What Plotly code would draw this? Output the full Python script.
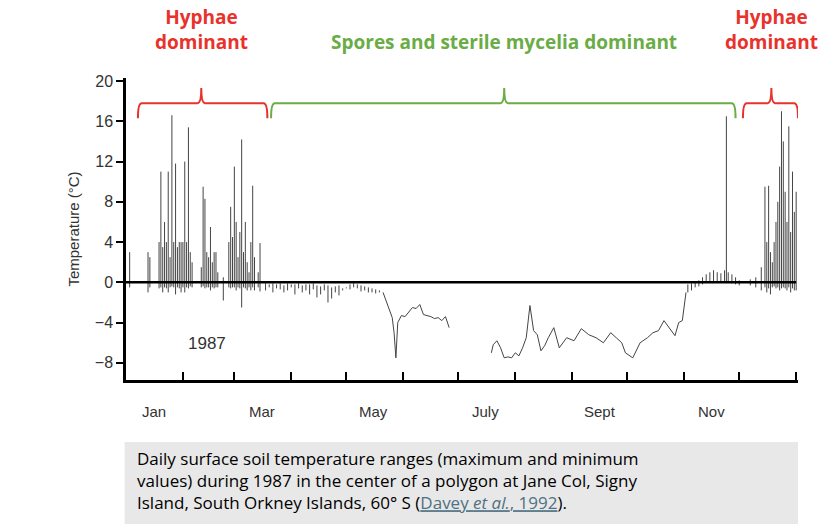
import plotly.graph_objects as go

# ---- data (day of year 1987, °C) ----
sum_days = [2, 12, 13, 18, 19, 20, 21, 22, 23, 24, 25, 26, 27, 28, 29, 30, 31, 32, 33, 34, 35, 36,
            41, 42, 43, 44, 45, 46, 47, 48, 49, 50, 53, 56, 57, 58, 59, 60, 61, 62, 63, 64, 65, 66, 67, 68, 69, 70, 72, 73]
sum_max = [3.0, 3.0, 2.5, 4.0, 11.0, 3.5, 6.0, 4.0, 11.0, 2.5, 16.6, 4.0, 11.8, 3.5, 4.0, 4.0, 4.0, 12.0, 4.0, 15.4, 3.0, 2.0,
           1.5, 9.5, 8.3, 3.0, 2.5, 5.5, 2.0, 3.0, 3.0, 1.0, 0.5, 4.0, 7.5, 4.5, 11.5, 6.0, 2.5, 5.0, 14.2, 3.0, 6.0, 2.0, 1.0, 4.0, 9.6, 2.5, 1.0, 3.9]
sum_min = [-0.5, -1.0, -0.5, -0.6, -0.5, -1.0, -0.5, -0.6, -1.0, -0.5, -0.4, -0.5, -1.2, -0.5, -0.6, -1.0, -0.5, -1.0, -0.5, -0.6, -0.4, -0.5,
           -0.5, -0.4, -0.6, -0.5, -0.5, -0.8, -0.5, -0.6, -0.5, -0.5, -1.8, -0.5, -0.6, -0.5, -0.5, -0.8, -0.5, -0.6, -2.5, -0.5, -0.6, -0.8, -0.5, -0.8, -0.5, -0.8, -0.5, -0.9]

aut_days = [76, 78, 80, 82, 84, 86, 88, 90, 92, 94, 96, 98, 100, 102, 104, 106, 108, 110, 112, 114, 116, 118, 120, 122, 124, 126, 128, 130, 132, 134, 136, 138]
aut_max = [-0.1, -0.2, -0.1, -0.2, -0.1, -0.3, -0.1, -0.2, -0.2, -0.1, -0.3, -0.2, -0.2, -0.1, -0.3, -0.4, -0.2, -0.3, -0.5, -0.4, -0.3, -0.6, -0.5, -0.2, -0.1, -0.2, -0.3, -0.4, -0.5, -0.6, -0.7, -0.8]
aut_min = [-0.8, -0.5, -1.0, -0.6, -0.7, -1.0, -0.8, -0.5, -1.2, -0.6, -1.0, -0.8, -1.2, -0.7, -1.5, -1.2, -0.8, -2.0, -1.6, -1.0, -1.3, -0.8, -0.6, -0.7, -0.5, -0.6, -0.9, -0.8, -1.0, -1.0, -1.1, -1.0]

win1_days = [140, 142, 144, 145, 146, 147, 148, 150, 152, 154, 156, 158, 160, 162, 164, 166, 168, 170, 172, 174, 176]
win1_temp = [-1.0, -2.0, -3.0, -3.5, -5.0, -7.5, -4.0, -3.3, -3.4, -3.0, -2.5, -2.6, -2.2, -3.2, -3.3, -3.4, -3.6, -3.5, -3.8, -3.4, -4.5]

win2_days = [199, 200, 202, 204, 206, 208, 210, 212, 214, 216, 218, 220, 222, 224, 226, 228, 230, 233, 236, 240, 244, 248, 252, 256, 260,
             264, 267, 270, 272, 276, 280, 284, 287, 290, 293, 296, 299, 301, 303, 305]
win2_temp = [-7.0, -6.2, -5.8, -6.5, -7.5, -7.4, -7.5, -7.0, -7.3, -6.5, -5.5, -2.3, -4.8, -5.2, -6.8, -6.3, -5.5, -4.5, -6.5, -5.5, -5.8, -4.6, -5.2, -5.5, -6.0,
             -5.0, -5.5, -6.0, -7.0, -7.5, -6.0, -5.5, -5.0, -4.8, -3.8, -4.5, -5.3, -4.0, -3.8, -1.0]

spr_days = [306, 308, 310, 312, 314, 316, 318, 320, 322, 324, 326, 327, 328, 330, 332, 334]
spr_max = [-0.2, -0.1, 0.0, 0.2, 0.5, 0.8, 1.0, 1.2, 1.0, 0.9, 1.2, 16.5, 1.0, 0.8, 0.5, 0.2]
spr_min = [-1.0, -0.8, -0.5, -0.4, -0.2, 0.0, 0.0, 0.1, 0.0, 0.0, 0.1, 0.0, 0.0, -0.1, -0.2, -0.3]

dec_days = [340, 343, 346, 348, 349, 350, 351, 352, 353, 354, 355, 356, 357, 358, 359, 360, 361, 362, 363, 364, 365]
dec_max = [0.3, 0.5, 1.5, 9.5, 4.0, 9.6, 3.0, 2.0, 4.0, 6.0, 8.0, 11.5, 17.0, 14.0, 9.0, 6.0, 15.5, 5.0, 11.0, 7.0, 9.0]
dec_min = [-0.3, -0.5, -0.8, -0.5, -1.0, -0.6, -1.2, -0.5, -0.4, -0.6, -0.5, -0.8, -0.6, -0.5, -0.6, -0.8, -0.5, -1.0, -0.6, -0.8, -0.8]

month_bounds = [0, 31, 59, 90, 120, 151, 181, 212, 243, 273, 304, 334, 365]
month_labels = ["Jan", "Mar", "May", "July", "Sept", "Nov"]
month_label_pos = [15, 74, 135, 196, 258, 319]
y_ticks = [-8, -4, 0, 4, 8, 12, 16, 20]


def ranges(days, lo, hi):
    xs, ys = [], []
    for d, a, b in zip(days, lo, hi):
        xs += [d, d, None]
        ys += [a, b, None]
    return xs, ys


fig = go.Figure()
line_col = "#444444"
for d, lo, hi in [(sum_days, sum_min, sum_max), (aut_days, aut_min, aut_max),
                  (spr_days, spr_min, spr_max), (dec_days, dec_min, dec_max)]:
    xs, ys = ranges(d, lo, hi)
    fig.add_trace(go.Scatter(x=xs, y=ys, mode="lines", line=dict(color=line_col, width=1), hoverinfo="skip"))
for d, t in [(win1_days, win1_temp), (win2_days, win2_temp)]:
    fig.add_trace(go.Scatter(x=d, y=t, mode="lines", line=dict(color=line_col, width=1), hoverinfo="skip"))

# zero line
fig.add_shape(type="line", x0=0, x1=365, y0=0, y1=0, xref="x", yref="y", line=dict(color="black", width=2.5))


def brace(x0, x1, xm, ylo, ymid, ytop, color):
    w = 2.0
    p = (f"M {x0},{ylo} Q {x0},{ymid} {x0 + w},{ymid} L {xm - w},{ymid} "
         f"Q {xm},{ymid} {xm},{ytop} Q {xm},{ymid} {xm + w},{ymid} "
         f"L {x1 - w},{ymid} Q {x1},{ymid} {x1},{ylo}")
    fig.add_shape(type="path", path=p, xref="x", yref="y", line=dict(color=color, width=2))


red = "#e8322b"
green = "#6aac45"
brace(6.5, 77, 41, 16.3, 17.8, 19.3, red)
brace(79, 332, 206, 16.3, 17.8, 19.3, green)
brace(336, 366, 351.5, 16.3, 17.8, 19.3, red)

fig.add_annotation(x=41, y=1.07, xref="x", yref="paper", text="<b>Hyphae<br>dominant</b>", showarrow=False,
                   font=dict(color=red, size=19, family="Open Sans"), yanchor="bottom")
fig.add_annotation(x=351.5, y=1.07, xref="x", yref="paper", text="<b>Hyphae<br>dominant</b>", showarrow=False,
                   font=dict(color=red, size=19, family="Open Sans"), yanchor="bottom")
fig.add_annotation(x=206, y=1.07, xref="x", yref="paper", text="<b>Spores and sterile mycelia dominant</b>",
                   showarrow=False, font=dict(color=green, size=19, family="Open Sans"), yanchor="bottom")

fig.add_annotation(x=44, y=-6.1, xref="x", yref="y", text="1987", showarrow=False,
                   font=dict(color="#333333", size=17, family="Liberation Sans"))

for lab, pos in zip(month_labels, month_label_pos):
    fig.add_annotation(x=pos, y=-0.07, xref="x", yref="paper", text=lab, showarrow=False, yanchor="top",
                       font=dict(color="#333333", size=15, family="Liberation Sans"))

# caption box
fig.add_shape(type="rect", xref="paper", yref="paper", x0=-0.002, x1=1.0, y0=-0.52, y1=-0.205,
              fillcolor="#e8e8e8", line=dict(width=0), layer="below")
fig.add_annotation(x=0.013, y=-0.215, xref="paper", yref="paper", align="left", xanchor="left", yanchor="top",
                   showarrow=False, font=dict(color="black", size=17, family="Open Sans"),
                   text=("Daily surface soil temperature ranges (maximum and minimum<br>"
                         "values) during 1987 in the center of a polygon at Jane Col, Signy<br>"
                         "Island, South Orkney Islands, 60° S (<span style='color:#4f7182'><u>Davey <i>et al.</i>, 1992</u></span>)."))

fig.update_layout(
    width=840, height=524, showlegend=False,
    margin=dict(l=118, r=50, t=70, b=152),
    paper_bgcolor="white", plot_bgcolor="white",
    xaxis=dict(range=[0, 366], tickvals=month_bounds, ticktext=[""] * len(month_bounds),
               ticks="inside", ticklen=8, tickwidth=2, tickcolor="black",
               showline=True, linecolor="black", linewidth=2.5, showgrid=False, zeroline=False),
    yaxis=dict(range=[-9.7, 20.3], tickvals=y_ticks, ticks="outside", ticklen=7, tickwidth=2, tickcolor="black",
               showline=True, linecolor="black", linewidth=2.5, showgrid=False, zeroline=False,
               tickfont=dict(size=16, color="#333333", family="Liberation Sans"),
               title=dict(text="Temperature (°C)", font=dict(size=15, color="#333333", family="Liberation Sans"), standoff=12)),
)
fig.write_html("out.html")
